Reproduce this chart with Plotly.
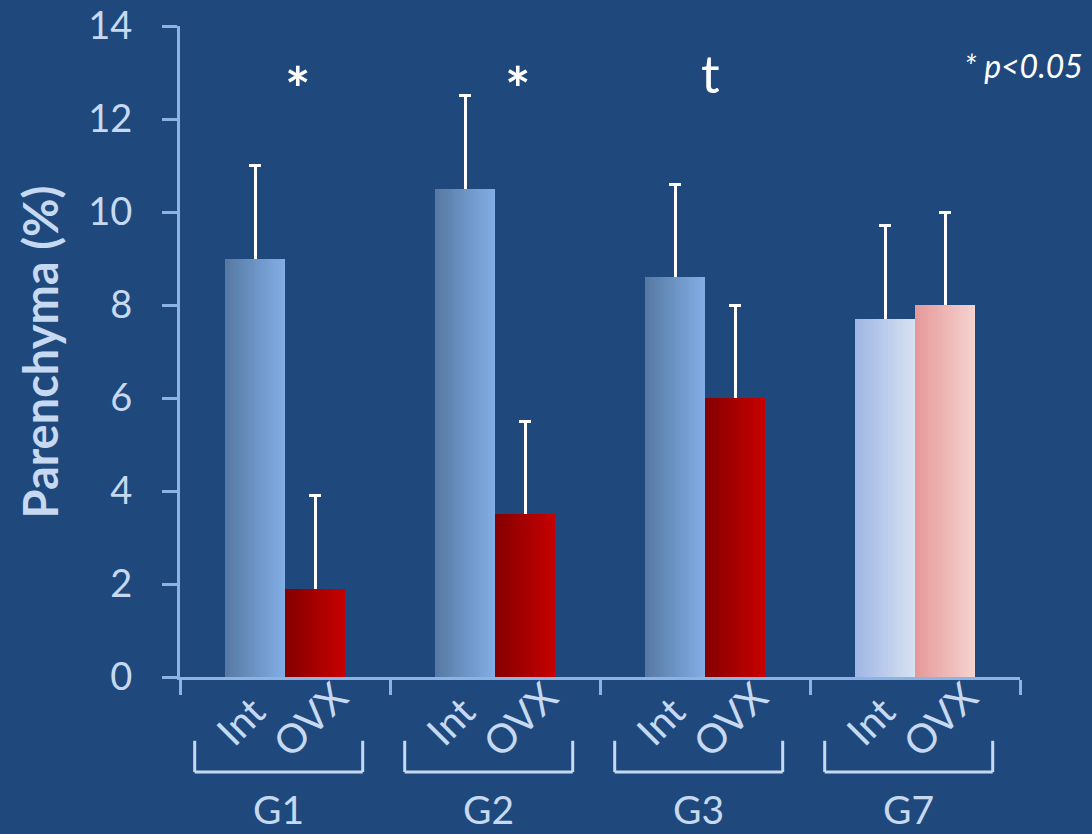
import plotly.graph_objects as go

# ---- data ----
groups = ["G1", "G2", "G3", "G7"]
int_mean = [9.0, 10.5, 8.6, 7.7]
int_err = [2.0, 2.0, 2.0, 2.0]
ovx_mean = [1.9, 3.5, 6.0, 8.0]
ovx_err = [2.0, 2.0, 2.0, 2.0]
sig_marks = ["*", "*", "t"]
sub_labels = ["Int", "OVX"]
y_ticks = [0, 2, 4, 6, 8, 10, 12, 14]

# ---- styles ----
BG = "#1f497d"
AXIS = "#8db3e2"
TEXT = "#c6d9f1"
FONT = "Lato"
BAR_W = 0.2857          # width of one bar, in category units
N_STRIPES = 24          # horizontal gradient resolution

# left/right gradient colours per group
int_left = ["#577aa4", "#577aa4", "#577aa4", "#a0b8e4"]
int_right = ["#82ade5", "#82ade5", "#82ade5", "#d6e0f2"]
ovx_left = ["#860000", "#860000", "#860000", "#e69999"]
ovx_right = ["#c60000", "#c60000", "#c60000", "#f4d3d0"]

sig_dx = [13, 23, 5]    # px shift of significance marks


def mix(c1, c2, t):
    a = [int(c1[i:i + 2], 16) for i in (1, 3, 5)]
    b = [int(c2[i:i + 2], 16) for i in (1, 3, 5)]
    return "#" + "".join(f"{round(a[j] + (b[j] - a[j]) * t):02x}" for j in range(3))


fig = go.Figure()


def add_series(means, errs, left, right, offset0):
    # error bars first, so the bar bodies cover their lower half
    fig.add_trace(go.Bar(
        x=groups, y=means, offset=offset0, width=BAR_W,
        marker=dict(color="rgba(0,0,0,0)", line=dict(width=0)),
        error_y=dict(type="data", array=errs, visible=True,
                     color="white", thickness=3, width=6),
        hoverinfo="skip", showlegend=False,
    ))
    # gradient body: successive stripes, each running to the right edge
    for k in range(N_STRIPES):
        t = k / (N_STRIPES - 1)
        fig.add_trace(go.Bar(
            x=groups, y=means,
            offset=offset0 + k * BAR_W / N_STRIPES,
            width=BAR_W - k * BAR_W / N_STRIPES,
            marker=dict(color=[mix(l, r, t) for l, r in zip(left, right)],
                        line=dict(width=0)),
            hoverinfo="skip", showlegend=False,
        ))


add_series(int_mean, int_err, int_left, int_right, -BAR_W)
add_series(ovx_mean, ovx_err, ovx_left, ovx_right, 0.0)

annotations = []
shapes = []

# significance marks above the groups
for i, m in enumerate(sig_marks):
    star = m == "*"
    annotations.append(dict(
        x=i, y=0.904 if star else 0.928, xref="x", yref="paper", text=m,
        showarrow=False, xshift=sig_dx[i], xanchor="center", yanchor="middle",
        font=dict(family=FONT, size=60 if star else 52, color="white",
                  weight="bold" if star else "normal"),
    ))

annotations.append(dict(
    x=1.077, y=0.94, xref="paper", yref="paper", text="<i>* p<0.05</i>",
    showarrow=False, xanchor="right", yanchor="middle",
    font=dict(family=FONT, size=32, color="white"),
))

# y-axis title
annotations.append(dict(
    x=-0.1667, y=0.50, xref="paper", yref="paper", text="<b>Parenchyma (%)</b>",
    showarrow=False, textangle=-90, xanchor="center", yanchor="middle",
    font=dict(family=FONT, size=47, color=TEXT),
))

# rotated sub-labels, brackets and group names
sub_dx = [-0.214, 0.119]
sub_dy = [-0.068, -0.065]
BR_C, BR_HALF = -0.03, 0.40
BR_TOP, BR_BOT = -0.098, -0.146
for i, g in enumerate(groups):
    for j, lab in enumerate(sub_labels):
        annotations.append(dict(
            x=i + sub_dx[j], y=sub_dy[j], xref="x", yref="paper", text=lab,
            showarrow=False, textangle=-45, xanchor="center", yanchor="middle",
            font=dict(family=FONT, size=40, color=TEXT),
        ))
    x0, x1 = i + BR_C - BR_HALF, i + BR_C + BR_HALF
    line = dict(color=TEXT, width=3)
    shapes += [
        dict(type="line", xref="x", yref="paper", x0=x0, x1=x0, y0=BR_TOP, y1=BR_BOT, line=line),
        dict(type="line", xref="x", yref="paper", x0=x1, x1=x1, y0=BR_TOP, y1=BR_BOT, line=line),
        dict(type="line", xref="x", yref="paper", x0=x0, x1=x1, y0=BR_BOT, y1=BR_BOT, line=line),
    ]
    annotations.append(dict(
        x=i + BR_C, y=-0.2035, xref="x", yref="paper", text=g, showarrow=False,
        xanchor="center", yanchor="middle", borderpad=0,
        font=dict(family=FONT, size=39, color=TEXT),
    ))

fig.update_layout(
    template="none",
    width=1092, height=834, autosize=False,
    margin=dict(l=180, r=72, t=26, b=157, pad=0, autoexpand=False),
    paper_bgcolor=BG, plot_bgcolor=BG,
    barmode="overlay", bargap=0,
    showlegend=False,
    font=dict(family=FONT, color=TEXT),
    annotations=annotations, shapes=shapes,
    xaxis=dict(
        type="category", range=[-0.5, 3.5], showticklabels=False,
        ticks="outside", tickson="boundaries", ticklen=15, tickwidth=3,
        tickcolor=AXIS, showline=True, linecolor=AXIS, linewidth=3,
        showgrid=False, zeroline=False, fixedrange=True, automargin=False,
    ),
    yaxis=dict(
        range=[0, 14], tickvals=y_ticks, ticks="outside", ticklen=15,
        tickwidth=3, tickcolor=AXIS, showline=True, linecolor=AXIS,
        linewidth=3, showgrid=False, zeroline=False,
        tickfont=dict(family=FONT, size=38, color=TEXT),
        ticklabelstandoff=22, fixedrange=True, automargin=False,
    ),
)

fig.write_html("out.html", config={"displayModeBar": False})
